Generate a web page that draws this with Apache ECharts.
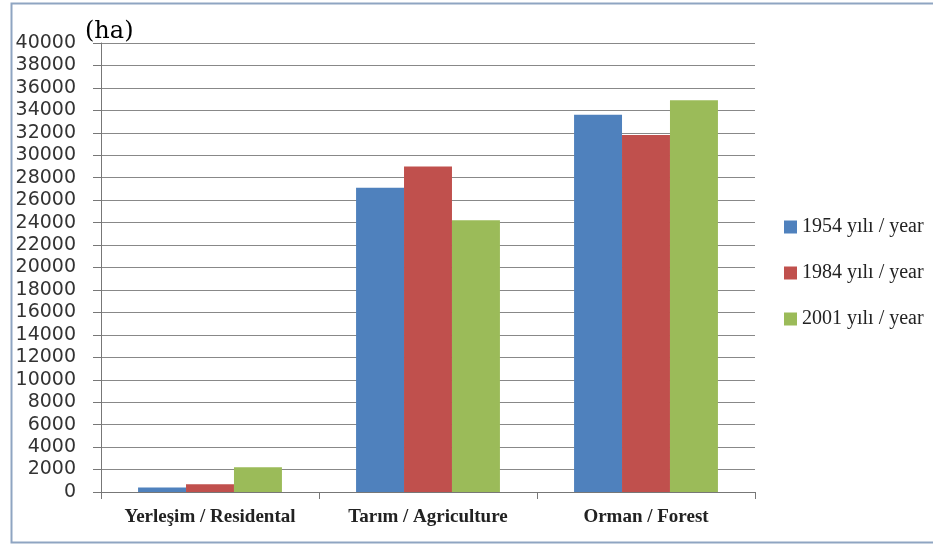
<!DOCTYPE html>
<html><head><meta charset="utf-8">
<script src="https://cdn.jsdelivr.net/npm/echarts@6/dist/echarts.min.js"></script>
<style>html,body{margin:0;padding:0;background:#fff}#c{width:933px;height:544px}</style>
</head><body><div id="c"></div>
<script>
const categories = ['Yerleşim / Residental', 'Tarım / Agriculture', 'Orman / Forest'];
const seriesNames = ['1954 yılı / year', '1984 yılı / year', '2001 yılı / year'];
const values1954 = [400, 27100, 33600];
const values1984 = [700, 29000, 31800];
const values2001 = [2200, 24200, 34900];
const colors = ['#4F81BD', '#C0504D', '#9BBB59'];

const chart = echarts.init(document.getElementById('c'));
const mk = (name, data, color) => ({
  name, type: 'bar', data, barGap: '0%', barCategoryGap: '34%',
  itemStyle: { color }
});
chart.setOption({
  animation: false,
  grid: { left: 101, right: 178, top: 43, bottom: 52 },
  graphic: [
    { type: 'rect', shape: { x: 11.5, y: 3.5, width: 930, height: 539 }, style: { fill: 'none', stroke: '#8FA5C2', lineWidth: 2 }, z: -1 },
    { type: 'text', left: 85, top: 20, style: { text: '(ha)', font: '24px "DejaVu Serif", serif', fill: '#000' } }
  ],
  legend: {
    orient: 'vertical', left: 779, top: 212, itemGap: 26,
    itemWidth: 13, itemHeight: 13, icon: 'rect',
    textStyle: { fontFamily: '"Liberation Serif", serif', fontSize: 20, color: '#222' },
    data: seriesNames
  },
  xAxis: {
    type: 'category', data: categories,
    axisLine: { lineStyle: { color: '#777' } },
    axisTick: { show: true, length: 7, lineStyle: { color: '#777' } },
    axisLabel: { interval: 0, margin: 16, fontFamily: '"Liberation Serif", serif', fontSize: 19, fontWeight: 'bold', color: '#222' }
  },
  yAxis: {
    type: 'value', min: 0, max: 40000, interval: 2000,
    axisLine: { show: true, lineStyle: { color: '#777' } },
    axisTick: { show: true, length: 8, lineStyle: { color: '#777' } },
    axisLabel: { margin: 25, fontFamily: '"DejaVu Sans", sans-serif', fontSize: 19, color: '#333', formatter: v => String(v) },
    splitLine: { lineStyle: { color: '#888', width: 1.2 } }
  },
  series: [mk(seriesNames[0], values1954, colors[0]), mk(seriesNames[1], values1984, colors[1]), mk(seriesNames[2], values2001, colors[2])]
});
</script></body></html>
